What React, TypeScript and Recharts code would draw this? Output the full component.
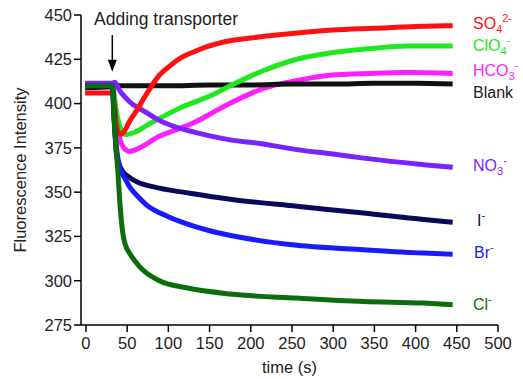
import { LineChart, Line, XAxis, YAxis, ReferenceLine, ReferenceDot } from "recharts";

// traces: [time (s), fluorescence]
const blank = [
  [-1, 409], [32, 409.5], [33, 410], [60, 410], [100, 410], [150, 410.5], [200, 410.5],
  [250, 411], [300, 411], [350, 411.5], [400, 411.5], [445, 411],
];
const sulfate = [
  [-1, 406], [32, 406], [33, 405], [36, 392], [39, 384], [42, 382.5], [46, 384], [53, 390],
  [60, 395], [73, 405], [89, 416], [100, 420.5], [114, 425.5], [130, 429], [146, 432],
  [175, 435.5], [200, 437], [250, 439.5], [300, 441.5], [350, 442.5], [400, 443.5], [445, 444],
];
const perchlorate = [
  [-1, 410], [32, 410.5], [33, 409], [35, 402], [38, 393], [42, 386], [49, 382.5], [60, 384],
  [75, 388], [89, 391.5], [114, 397.5], [130, 400.5], [154, 405], [175, 410], [215, 418.5],
  [256, 425], [296, 428.5], [345, 431], [390, 432.5], [445, 432.5],
];
const bicarbonate = [
  [-1, 410.5], [32, 410.5], [34, 400], [37, 388], [41, 380], [46, 375], [53, 373], [65, 375],
  [89, 381.5], [114, 386], [130, 389], [162, 397], [183, 402], [215, 408.5], [256, 413],
  [296, 416], [345, 417], [390, 417.5], [445, 417],
];
const nitrate = [
  [-1, 411.5], [32, 411.5], [35, 412], [40, 408], [53, 401], [73, 395], [89, 390.5], [114, 386],
  [130, 384], [175, 379.5], [211, 377.5], [256, 374], [300, 371.5], [337, 369.2], [410, 365.5],
  [445, 364],
];
const iodide = [
  [-1, 410], [32, 410], [33, 405], [35, 385], [37, 372], [40, 366], [45, 361.5], [52, 358.5],
  [61, 356], [89, 352.3], [126, 349.4], [175, 346], [256, 342], [337, 338.2], [410, 334.5],
  [445, 333],
];
const bromide = [
  [-1, 410], [32, 410], [34, 392], [37, 375], [41, 364], [47, 358], [53, 353], [63, 347.5],
  [73, 343], [98, 336.5], [126, 331.5], [150, 328.2], [187, 324.5], [256, 320], [337, 317.5],
  [410, 315.6], [445, 315],
];
const chloride = [
  [-1, 410], [32, 410], [34, 393], [36.5, 375], [38.7, 362], [41, 345], [43, 334], [45, 326],
  [48, 320], [53, 315.5], [65, 308], [89, 300], [122, 296], [175, 292.5], [256, 290.2],
  [337, 288.3], [410, 287.4], [445, 286.5],
];

const xTicks = [0, 50, 100, 150, 200, 250, 300, 350, 400, 450, 500];
const yTicks = [275, 300, 325, 350, 375, 400, 425, 450];

const series = [
  { name: "HCO3", data: bicarbonate, color: "#ff1eff" },
  { name: "Blank", data: blank, color: "#111111" },
  { name: "ClO4", data: perchlorate, color: "#1ee81e" },
  { name: "NO3", data: nitrate, color: "#7a22ff" },
  { name: "SO4", data: sulfate, color: "#ff1010" },
  { name: "I", data: iodide, color: "#0a0a5c" },
  { name: "Br", data: bromide, color: "#1a1aff" },
  { name: "Cl", data: chloride, color: "#0b6e0b" },
];

const font = "Arial, 'Liberation Sans', sans-serif";

const toPoints = (arr: number[][]) => arr.map(([t, v]) => ({ t, v }));

const labelStyle = (left: number, top: number, color: string, size = 16): React.CSSProperties => ({
  position: "absolute",
  left,
  top,
  color,
  fontSize: size,
  fontFamily: font,
  lineHeight: "18px",
  whiteSpace: "nowrap",
});

const sub: React.CSSProperties = { fontSize: 11, verticalAlign: -4, lineHeight: 0 };
const sup: React.CSSProperties = { fontSize: 11, verticalAlign: 7, lineHeight: 0 };

export default function App() {
  return (
    <div style={{ position: "absolute", left: 0, top: 0, width: 523, height: 379, background: "#fff" }}>
      <LineChart width={523} height={379} margin={{ top: 15, right: 25, bottom: 4, left: 0 }}>
        <XAxis
          type="number"
          dataKey="t"
          domain={[-6, 500]}
          ticks={xTicks}
          allowDataOverflow
          height={50}
          stroke="#000"
          strokeWidth={1.5}
          tickSize={7}
          tickMargin={5}
          tick={{ fill: "#222", fontSize: 16.5, fontFamily: font }}
          label={{ value: "time (s)", position: "insideBottom", offset: 2, fill: "#222", fontSize: 16.5, fontFamily: font }}
        />
        <YAxis
          type="number"
          dataKey="v"
          domain={[275, 450]}
          ticks={yTicks}
          allowDataOverflow
          width={81}
          stroke="#000"
          strokeWidth={1.5}
          tickSize={7}
          tick={{ fill: "#222", fontSize: 16.5, fontFamily: font }}
          label={{ value: "Fluorescence Intensity", angle: -90, position: "insideLeft", offset: 20, fill: "#222", fontSize: 16.5, fontFamily: font, style: { textAnchor: "middle" } }}
        />
        {series.map((s) => (
          <Line
            key={s.name}
            data={toPoints(s.data)}
            dataKey="v"
            type="monotone"
            stroke={s.color}
            strokeWidth={5}
            dot={false}
            isAnimationActive={false}
          />
        ))}
        <ReferenceLine segment={[{ x: 32, y: 438.7 }, { x: 32, y: 423 }]} stroke="#000" strokeWidth={1.5} />
        <ReferenceDot
          x={32}
          y={418}
          r={0}
          shape={(p: any) => (
            <polygon points={`${p.cx},${p.cy} ${p.cx - 4.5},${p.cy - 12} ${p.cx + 4.5},${p.cy - 12}`} fill="#000" />
          )}
        />
      </LineChart>

      <div style={labelStyle(94, 10, "#222", 17.5)}>Adding transporter</div>
      <div style={labelStyle(473, 15, "#ff1010")}>
        SO<span style={sub}>4</span><span style={sup}>2-</span>
      </div>
      <div style={labelStyle(473, 37, "#1ee81e")}>
        ClO<span style={sub}>4</span><span style={sup}>-</span>
      </div>
      <div style={labelStyle(473, 62, "#ff1eff")}>
        HCO<span style={sub}>3</span><span style={sup}>-</span>
      </div>
      <div style={labelStyle(473, 84, "#222")}>Blank</div>
      <div style={labelStyle(473, 157, "#7a22ff")}>
        NO<span style={sub}>3</span><span style={sup}>-</span>
      </div>
      <div style={labelStyle(477, 212, "#0a0a5c")}>
        I<span style={sup}>-</span>
      </div>
      <div style={labelStyle(474, 244, "#1a1aff")}>
        Br<span style={sup}>-</span>
      </div>
      <div style={labelStyle(473, 296, "#0b6e0b")}>
        Cl<span style={sup}>-</span>
      </div>
    </div>
  );
}
